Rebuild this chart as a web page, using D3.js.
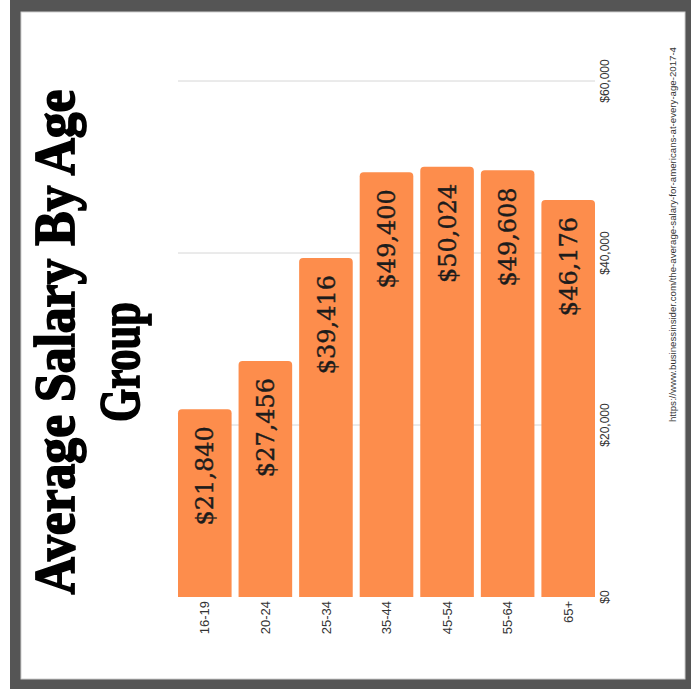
<!DOCTYPE html>
<html>
<head>
<meta charset="utf-8">
<script src="https://cdn.jsdelivr.net/npm/d3@7"></script>
<style>
  html, body { margin: 0; padding: 0; background: #fff; }
  svg { display: block; }
</style>
</head>
<body>
<svg id="chart" width="691" height="697"></svg>
<script>
// ---- data ----
const categories = ["16-19", "20-24", "25-34", "35-44", "45-54", "55-64", "65+"];
const salaries = [21840, 27456, 39416, 49400, 50024, 49608, 46176];
const valueTicks = [0, 20000, 40000, 60000];
const titleLines = ["Average Salary By Age", "Group"];
const sourceText = "https://www.businessinsider.com/the-average-salary-for-americans-at-every-age-2017-4";

const svg = d3.select("#chart");

// frame
svg.append("rect").attr("x", 10).attr("y", 0).attr("width", 681).attr("height", 689).attr("fill", "#555555");
svg.append("rect").attr("x", 21).attr("y", 12).attr("width", 664).attr("height", 667).attr("fill", "#ffffff")
  .attr("stroke", "#cfcfcf").attr("stroke-width", 1);

// scales (chart is drawn rotated: categories along x, values upward)
const x = d3.scaleBand().domain(categories).range([178, 595]).paddingInner(0.115).paddingOuter(0);
const y = d3.scaleLinear().domain([0, 60000]).range([597, 81]);

// gridlines
svg.append("g").selectAll("line").data(valueTicks.filter(d => d > 0)).join("line")
  .attr("x1", 178).attr("x2", 595)
  .attr("y1", d => y(d)).attr("y2", d => y(d))
  .attr("stroke", "#d6d6d6").attr("stroke-width", 1);

// bars with rounded top corners
const r = 4;
svg.append("g").selectAll("path").data(categories).join("path")
  .attr("fill", "#fd8d4c")
  .attr("d", (c, i) => {
    const x0 = x(c), x1 = x(c) + x.bandwidth();
    const yt = y(salaries[i]), yb = y(0);
    return `M${x0},${yb}V${yt + r}Q${x0},${yt} ${x0 + r},${yt}H${x1 - r}Q${x1},${yt} ${x1},${yt + r}V${yb}Z`;
  });

// value labels inside bars
const fmt = d3.format("$,");
svg.append("g").selectAll("text").data(categories).join("text")
  .attr("transform", (c, i) => `translate(${x(c) + x.bandwidth() / 2},${y(salaries[i]) + 17}) rotate(-90)`)
  .attr("text-anchor", "end")
  .attr("dy", "0.36em")
  .attr("font-family", "'DejaVu Serif', 'Liberation Serif', serif")
  .attr("font-size", 24)
  .attr("fill", "#1c1c1c")
  .attr("stroke", "#1c1c1c").attr("stroke-width", 0.4)
  .text((c, i) => fmt(salaries[i]));

// category labels
svg.append("g").selectAll("text").data(categories).join("text")
  .attr("transform", c => `translate(${x(c) + x.bandwidth() / 2},601) rotate(-90)`)
  .attr("text-anchor", "end")
  .attr("dy", "0.36em")
  .attr("font-family", "'Liberation Sans', Arial, sans-serif")
  .attr("font-size", 13)
  .attr("fill", "#333")
  .text(c => c);

// value axis labels
svg.append("g").selectAll("text").data(valueTicks).join("text")
  .attr("transform", d => `translate(609,${y(d)}) rotate(-90)`)
  .attr("text-anchor", "middle")
  .attr("font-family", "'Liberation Sans', Arial, sans-serif")
  .attr("font-size", 12)
  .attr("fill", "#333")
  .text(d => fmt(d));

// title
const titleG = svg.append("g");
titleG.append("text")
  .attr("transform", "translate(74,342) rotate(-90)")
  .attr("text-anchor", "middle")
  .attr("font-family", "'Liberation Serif', 'DejaVu Serif', serif")
  .attr("font-weight", "bold")
  .attr("font-size", 58)
  .attr("stroke", "#000").attr("stroke-width", 1.8)
  .attr("textLength", 505).attr("lengthAdjust", "spacingAndGlyphs")
  .text(titleLines[0]);
titleG.append("text")
  .attr("transform", "translate(139,362) rotate(-90)")
  .attr("text-anchor", "middle")
  .attr("font-family", "'Liberation Serif', 'DejaVu Serif', serif")
  .attr("font-weight", "bold")
  .attr("font-size", 58)
  .attr("stroke", "#000").attr("stroke-width", 1.8)
  .attr("textLength", 120).attr("lengthAdjust", "spacingAndGlyphs")
  .text(titleLines[1]);

// source
svg.append("text")
  .attr("transform", "translate(676,47) rotate(-90)")
  .attr("text-anchor", "end")
  .attr("font-family", "'Liberation Sans', Arial, sans-serif")
  .attr("font-size", 9.5)
  .attr("fill", "#333")
  .attr("textLength", 375).attr("lengthAdjust", "spacingAndGlyphs")
  .text(sourceText);
</script>
</body>
</html>
